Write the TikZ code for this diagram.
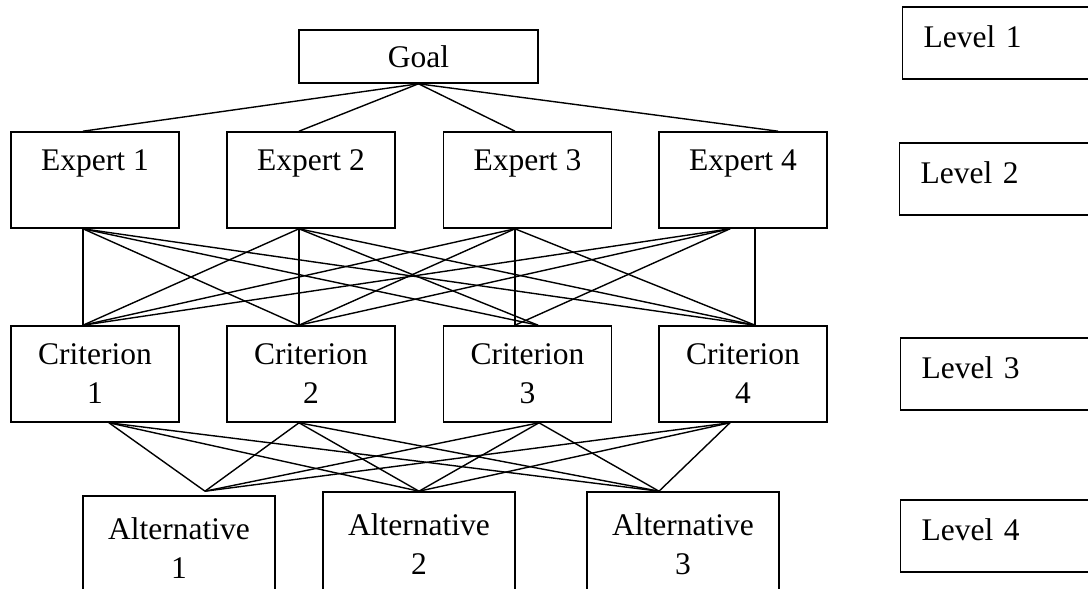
\documentclass[tikz,border=0pt]{standalone}
\usepackage{fontspec}
\setmainfont{Liberation Serif}
\usetikzlibrary{calc}
\begin{document}
\begin{tikzpicture}[x=1pt,y=-1pt,
  box/.style={draw, line width=1.6pt, rectangle, inner sep=0pt, align=center,
    font=\fontsize{31.5}{39}\selectfont},
  expbox/.style={box, minimum width=168pt, minimum height=96pt},
  altbox/.style={box, minimum width=192pt, minimum height=104pt},
  lvl/.style={draw, line width=1.4pt, rectangle, minimum width=240pt, minimum height=72pt,
    anchor=west, inner xsep=21pt, inner ysep=0pt, text width=198pt, align=left,
    text height=22pt, text depth=13pt, font=\fontsize{31.5}{39}\selectfont},
  link/.style={line width=1.4pt}]
\useasboundingbox (0,0) rectangle (1088,589);
\clip (0,0) rectangle (1088,589);

% Level 1
\node[box, minimum width=239pt, minimum height=53pt] (goal) at (418.5,56.5) {Goal};
% Level 2
\node[expbox] (e1) at (95,180)    {Expert 1\\ \mbox{}};
\node[expbox] (e2) at (311,180)   {Expert 2\\ \mbox{}};
\node[expbox] (e3) at (527.5,180) {Expert 3\\ \mbox{}};
\node[expbox] (e4) at (743,180)   {Expert 4\\ \mbox{}};
% Level 3
\node[expbox] (c1) at (95,374)    {Criterion\\1};
\node[expbox] (c2) at (311,374)   {Criterion\\2};
\node[expbox] (c3) at (527.5,374) {Criterion\\3};
\node[expbox] (c4) at (743,374)   {Criterion\\4};
% Level 4
\node[altbox] (a1) at (179,548) {Alternative\\1};
\node[altbox] (a2) at (419,544) {Alternative\\2};
\node[altbox] (a3) at (683,544) {Alternative\\3};

% level labels
\node[lvl] (l1) at (902,43)  {Level 1};
\node[lvl] (l2) at (899,179) {Level 2};
\node[lvl] (l3) at (900,374) {Level 3};
\node[lvl] (l4) at (900,536) {Level 4};

% goal -> experts
\draw[link] (goal.south) -- ($(e1.north)+(-12,0)$);
\draw[link] (goal.south) -- ($(e2.north)+(-12,0)$);
\draw[link] (goal.south) -- ($(e3.north)+(-12.5,0)$);
\draw[link] (goal.south) -- ($(e4.north)+(35,0)$);

% experts -> criteria
\draw[link] ($(e1.south)+(-12,0)$) -- ($(c1.north)+(-12,0)$);
\draw[link] ($(e1.south)+(-12,0)$) -- ($(c2.north)+(-12,0)$);
\draw[link] ($(e1.south)+(-12,0)$) -- ($(c3.north)+(10.5,0)$);
\draw[link] ($(e1.south)+(-12,0)$) -- ($(c4.north)+(12,0)$);
\draw[link] ($(e2.south)+(-12,0)$) -- ($(c1.north)+(-12,0)$);
\draw[link] ($(e2.south)+(-12,0)$) -- ($(c2.north)+(-12,0)$);
\draw[link] ($(e2.south)+(-12,0)$) -- ($(c3.north)+(10.5,0)$);
\draw[link] ($(e2.south)+(-12,0)$) -- ($(c4.north)+(12,0)$);
\draw[link] ($(e3.south)+(-12.5,0)$) -- ($(c1.north)+(-12,0)$);
\draw[link] ($(e3.south)+(-12.5,0)$) -- ($(c2.north)+(-12,0)$);
\draw[link] ($(e3.south)+(-12.5,0)$) -- ($(c3.north)+(-12.5,0)$);
\draw[link] ($(e3.south)+(-12.5,0)$) -- ($(c4.north)+(12,0)$);
\draw[link] ($(e4.south)+(-13,0)$) -- ($(c1.north)+(-12,0)$);
\draw[link] ($(e4.south)+(-13,0)$) -- ($(c2.north)+(-12,0)$);
\draw[link] ($(e4.south)+(-13,0)$) -- ($(c3.north)+(-12.5,0)$);
\draw[link] ($(e4.south)+(12,0)$) -- ($(c4.north)+(12,0)$);

% criteria -> alternatives
\draw[link] ($(c1.south)+(14,0)$) -- ($(a1.north)+(26,-4)$);
\draw[link] ($(c1.south)+(14,0)$) -- (a2.north);
\draw[link] ($(c1.south)+(14,0)$) -- ($(a3.north)+(-24,0)$);
\draw[link] ($(c2.south)+(-12,0)$) -- ($(a1.north)+(26,-4)$);
\draw[link] ($(c2.south)+(-12,0)$) -- (a2.north);
\draw[link] ($(c2.south)+(-12,0)$) -- ($(a3.north)+(-24,0)$);
\draw[link] ($(c3.south)+(11.5,0)$) -- ($(a1.north)+(26,-4)$);
\draw[link] ($(c3.south)+(11.5,0)$) -- (a2.north);
\draw[link] ($(c3.south)+(11.5,0)$) -- ($(a3.north)+(-24,0)$);
\draw[link] ($(c4.south)+(-13,0)$) -- ($(a1.north)+(26,-4)$);
\draw[link] ($(c4.south)+(-13,0)$) -- (a2.north);
\draw[link] ($(c4.south)+(-13,0)$) -- ($(a3.north)+(-24,0)$);
\end{tikzpicture}
\end{document}
